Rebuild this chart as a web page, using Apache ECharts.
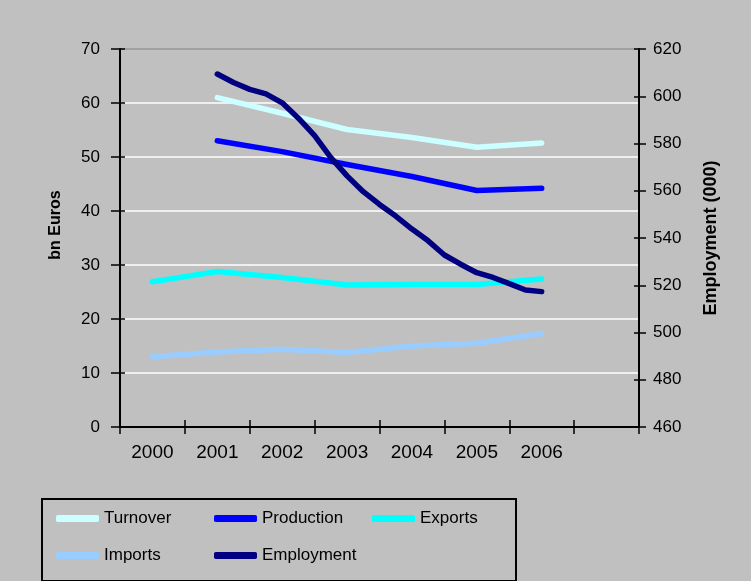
<!DOCTYPE html>
<html>
<head>
<meta charset="utf-8">
<script src="https://cdn.jsdelivr.net/npm/echarts@6/dist/echarts.min.js"></script>
<style>
  html, body { margin: 0; padding: 0; background: #c0c0c0; }
  #chart { width: 751px; height: 581px; }
</style>
</head>
<body>
<div id="chart"></div>
<script>
// Annual series (bn Euros); the trailing empty slot leaves room on the category axis
const years = ['2000', '2001', '2002', '2003', '2004', '2005', '2006', ''];
const turnover   = [null, 61.0, 58.1, 55.1, 53.6, 51.8, 52.6];
const production = [null, 53.0, 51.0, 48.6, 46.4, 43.8, 44.2];
const exports    = [26.9, 28.8, 27.7, 26.3, 26.4, 26.4, 27.4];
const imports    = [13.0, 13.9, 14.4, 13.8, 15.0, 15.5, 17.3];

// Quarterly employment (thousands)
const empTime = [2001, 2001.25, 2001.5, 2001.75, 2002, 2002.25, 2002.5, 2002.75,
                 2003, 2003.25, 2003.5, 2003.75, 2004, 2004.25, 2004.5, 2004.75,
                 2005, 2005.25, 2005.5, 2005.75, 2006];
const empValues = [609.4, 605.8, 602.9, 601.0, 597.2, 590.7, 583.3, 574.0,
                   566.3, 559.6, 554.2, 549.3, 543.8, 538.8, 532.8, 528.9,
                   525.3, 523.3, 520.7, 518.0, 517.3];

// Axis ranges
const leftMin = 0, leftMax = 70, leftStep = 10;
const rightMin = 460, rightMax = 620, rightStep = 20;

const font = "'Liberation Sans', Arial, sans-serif";
const black = '#000000';

const chart = echarts.init(document.getElementById('chart'), null, { renderer: 'canvas' });

function lineSeries(name, color, data, extra) {
  return Object.assign({
    name: name,
    type: 'line',
    data: data,
    symbol: 'none',
    smooth: false,
    connectNulls: false,
    color: color,
    itemStyle: { color: color },
    lineStyle: { color: color, width: 5.5, cap: 'round', join: 'round' },
    emphasis: { disabled: true },
    animation: false
  }, extra || {});
}

chart.setOption({
  backgroundColor: '#c0c0c0',
  animation: false,
  grid: {
    left: 120, right: 112, top: 49, bottom: 154,
    show: true,
    backgroundColor: 'transparent',
    borderColor: '#808080',
    borderWidth: 1
  },
  legend: {
    left: 42,
    top: 499,
    width: 480,
    orient: 'horizontal',
    padding: [11, 6, 17, 14],
    itemGap: 20,
    itemWidth: 43,
    itemHeight: 7,
    icon: 'roundRect',
    borderColor: black,
    borderWidth: 2,
    borderRadius: 0,
    backgroundColor: 'transparent',
    selectedMode: false,
    data: ['Turnover', 'Production', 'Exports', 'Imports', 'Employment'],
    textStyle: {
      fontFamily: font,
      fontSize: 17,
      color: black,
      width: 90,
      lineHeight: 15
    }
  },
  xAxis: [
    {
      type: 'category',
      data: years,
      boundaryGap: true,
      position: 'bottom',
      axisLine: { lineStyle: { color: black, width: 2 } },
      axisTick: { show: true, interval: 0, length: 7, lineStyle: { color: black, width: 1.5 } },
      axisLabel: { interval: 0, color: black, fontFamily: font, fontSize: 19, margin: 16 },
      splitLine: { show: false }
    },
    {
      type: 'value',
      min: 1999.5,
      max: 2007.5,
      show: false
    },
    {
      type: 'category',
      data: years,
      boundaryGap: true,
      position: 'bottom',
      axisLine: { show: false },
      axisTick: { show: true, inside: true, interval: 0, length: 7, lineStyle: { color: black, width: 1.5 } },
      axisLabel: { show: false },
      splitLine: { show: false }
    }
  ],
  yAxis: [
    {
      type: 'value',
      position: 'left',
      min: leftMin, max: leftMax, interval: leftStep,
      name: 'bn Euros',
      nameLocation: 'middle',
      nameRotate: 90,
      nameGap: 56,
      nameTextStyle: { fontFamily: font, fontSize: 16, fontWeight: 'bold', color: black, padding: [0, 0, 0, 26] },
      axisLine: { show: true, lineStyle: { color: black, width: 2 } },
      axisTick: { show: true, length: 9, lineStyle: { color: black, width: 1.5 } },
      axisLabel: { color: black, fontFamily: font, fontSize: 17, margin: 20 },
      splitLine: { show: true, showMinLine: false, showMaxLine: false, lineStyle: { color: '#ffffff', width: 1.5 } }
    },
    {
      type: 'value',
      position: 'right',
      min: rightMin, max: rightMax, interval: rightStep,
      name: 'Employment (000)',
      nameLocation: 'middle',
      nameRotate: 90,
      nameGap: 63,
      nameTextStyle: { fontFamily: font, fontSize: 18, fontWeight: 'bold', color: black },
      axisLine: { show: true, lineStyle: { color: black, width: 2 } },
      axisTick: { show: true, length: 7, lineStyle: { color: black, width: 1.5 } },
      axisLabel: { color: black, fontFamily: font, fontSize: 17, margin: 14 },
      splitLine: { show: false }
    },
    {
      type: 'value',
      position: 'left',
      min: leftMin, max: leftMax, interval: leftStep,
      axisLine: { show: false },
      axisTick: { show: true, inside: true, length: 5, lineStyle: { color: black, width: 1.5 } },
      axisLabel: { show: false },
      splitLine: { show: false }
    },
    {
      type: 'value',
      position: 'right',
      min: rightMin, max: rightMax, interval: rightStep,
      axisLine: { show: false },
      axisTick: { show: true, inside: true, length: 5, lineStyle: { color: black, width: 1.5 } },
      axisLabel: { show: false },
      splitLine: { show: false }
    }
  ],
  series: [
    lineSeries('Turnover', '#ccffff', turnover),
    lineSeries('Production', '#0000ff', production),
    lineSeries('Exports', '#00ffff', exports),
    lineSeries('Imports', '#99ccff', imports),
    lineSeries('Employment', '#000080',
      empTime.map((t, i) => [t, empValues[i]]),
      { xAxisIndex: 1, yAxisIndex: 1 })
  ]
});
</script>
</body>
</html>
